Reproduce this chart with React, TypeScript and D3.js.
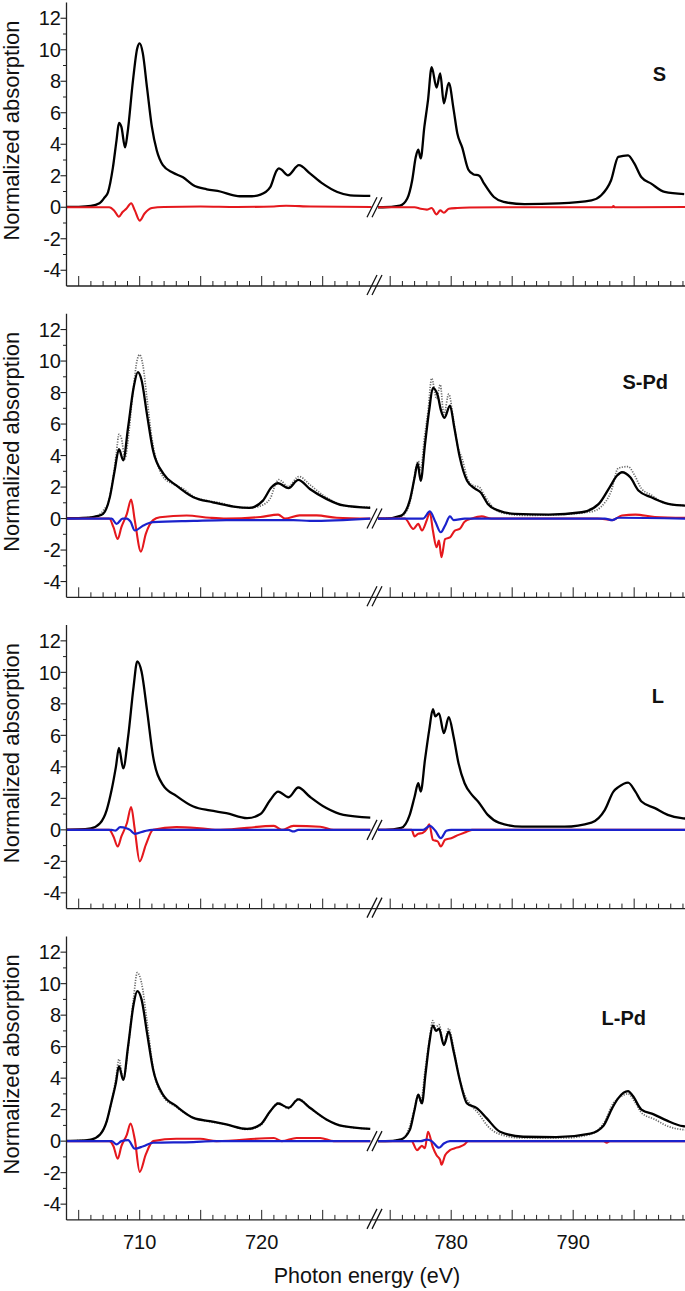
import React from 'react';
import * as d3 from 'd3';

type P = [number, number];

// ---------- data (photon energy eV, normalized absorption) ----------
const panelLabels = ['S', 'S-Pd', 'L', 'L-Pd'];
const yTickValues = [-4, -2, 0, 2, 4, 6, 8, 10, 12];
const yMinorValues = [-3, -1, 1, 3, 5, 7, 9, 11];
const xTickLabelValues = [710, 720, 780, 790];

// Panel S
const sBlackL: P[] = [[704,0.02],[705,0.03],[706,0.08],[706.7,0.25],[707.1,0.6],[707.4,0.95],[707.8,2.5],[708.1,4.25],[708.3,5.35],[708.5,5.1],[708.8,3.8],[709.0,4.7],[709.45,8.06],[709.8,10.1],[710.0,10.4],[710.25,9.8],[710.6,7.6],[711.0,5.1],[711.4,3.6],[711.9,2.67],[712.7,2.2],[713.55,1.9],[714.4,1.4],[715.5,1.14],[716.6,1.0],[717.7,0.76],[718.2,0.7],[719.2,0.7],[719.9,0.8],[720.7,1.28],[721.2,2.3],[721.4,2.47],[721.6,2.4],[722.15,2.03],[723.05,2.67],[723.95,2.15],[725.0,1.5],[726.2,0.97],[727.25,0.76],[728.9,0.72]];
const sBlackR: P[] = [[774,0.0],[774.4,0.0],[775.8,0.1],[776.4,0.55],[776.8,1.7],[777.1,3.2],[777.3,3.65],[777.5,3.1],[777.8,5.1],[778.1,6.8],[778.4,8.9],[778.8,7.6],[779.1,8.5],[779.4,6.6],[779.8,7.9],[780.2,6.2],[780.5,4.7],[780.9,3.8],[781.4,2.4],[781.8,2.1],[782.3,2.0],[782.7,1.5],[783.5,0.65],[784.3,0.34],[786.0,0.2],[788.8,0.25],[791.5,0.44],[792.3,0.76],[793.1,1.7],[793.7,3.2],[794.5,3.3],[795.0,2.8],[795.6,1.9],[796.4,1.5],[797.5,0.97],[799.1,0.83]];
const sRedL: P[] = [[704,0],[707.5,0],[707.9,-0.2],[708.3,-0.6],[708.6,-0.3],[708.9,-0.1],[709.3,0.25],[709.6,-0.2],[710.0,-0.85],[710.4,-0.4],[711.0,-0.05],[712,0.02],[715,0.05],[718,0.02],[721,0.05],[722,0.1],[724,0.05],[729,0.02]];
const sRedR: P[] = [[774,0],[777,0],[777.5,-0.1],[778.0,-0.15],[778.4,-0.05],[778.8,-0.45],[779.1,-0.2],[779.4,-0.35],[779.8,-0.1],[780.5,-0.05],[781.5,-0.02],[784,0],[793.2,0],[793.3,0.08],[793.4,0],[799.2,0.02]];

// Panel S-Pd
const spBlackL: P[] = [[704,0.02],[705,0.03],[706,0.07],[706.5,0.15],[707.0,0.3],[707.55,1.35],[707.95,3.05],[708.3,4.4],[708.65,3.7],[709.05,5.8],[709.5,8.3],[709.85,9.3],[710.15,8.8],[710.6,6.6],[711.1,4.3],[711.95,2.84],[713.0,2.1],[714.4,1.35],[716.0,1.03],[717.7,0.76],[719.0,0.68],[720.1,1.14],[720.8,1.99],[721.35,2.24],[722.2,1.93],[723.0,2.46],[723.95,1.88],[725.3,1.25],[726.7,0.83],[728.9,0.68]];
const spBlackR: P[] = [[774,0],[774.6,0],[775.9,0.19],[776.6,1.14],[777.0,2.6],[777.25,3.5],[777.5,2.4],[777.85,4.7],[778.2,6.9],[778.5,8.3],[778.9,7.8],[779.15,6.9],[779.45,6.4],[779.9,7.17],[780.25,5.8],[780.7,3.9],[781.3,2.4],[781.95,1.9],[782.4,1.67],[783.0,0.93],[783.9,0.5],[785.2,0.3],[788.0,0.25],[790.7,0.4],[792.1,0.93],[793.0,2.0],[793.6,2.73],[794.0,2.94],[794.7,2.6],[795.35,1.78],[796.4,1.35],[797.5,1.0],[798.9,0.83],[799.2,0.82]];
const spRedL: P[] = [[704,0],[707.5,0],[707.85,-0.55],[708.2,-1.3],[708.5,-0.55],[708.95,0.3],[709.3,1.2],[709.6,-0.13],[710.1,-2.1],[710.5,-0.97],[711.1,-0.1],[711.65,0.08],[713.85,0.19],[715.75,0.05],[717.1,0],[719.9,0.1],[721.35,0.25],[721.9,0],[723.1,0.2],[724.5,0.2],[726.15,0.05],[728.9,0]];
const spRedR: P[] = [[774,0],[776.2,0],[776.9,-0.66],[777.3,-0.34],[777.6,-0.76],[778.0,-0.1],[778.25,0.4],[778.5,-0.76],[778.8,-1.82],[779.0,-1.4],[779.2,-2.46],[779.5,-1.3],[779.9,-1.2],[780.3,-0.76],[780.7,-0.66],[781.1,-0.2],[781.7,0],[782.5,0.14],[783.3,0],[792.0,0],[793.2,-0.1],[794.0,0.19],[795.1,0.25],[796.7,0.1],[799.2,0.05]];
const spBlueL: P[] = [[704,0],[707.7,0],[708.1,-0.34],[708.6,0.0],[708.95,0.0],[709.25,-0.2],[709.6,-0.76],[710.3,-0.44],[711.1,-0.23],[714.4,-0.15],[717.1,-0.1],[722.6,-0.1],[723.95,-0.15],[728.9,0]];
const spBlueR: P[] = [[774,0],[777.7,0],[778.25,0.45],[778.7,-0.2],[779.15,-0.87],[779.5,-0.44],[779.9,0.14],[780.2,-0.1],[781.1,0],[792.6,0],[793.2,-0.1],[793.7,0.05],[799.2,0]];

// Panel L
const lBlackL: P[] = [[704,0.02],[705,0.03],[706,0.1],[706.75,0.42],[707.3,1.27],[707.7,2.54],[708.05,4.0],[708.3,5.2],[708.65,3.9],[709.05,5.9],[709.5,9.1],[709.8,10.7],[710.15,10.05],[710.6,7.6],[711.1,4.65],[711.9,2.86],[713.0,2.16],[714.4,1.48],[715.75,1.23],[717.1,1.06],[718.8,0.74],[719.9,1.0],[720.7,1.9],[721.35,2.43],[722.2,2.07],[723.0,2.69],[723.95,2.1],[725.3,1.38],[726.7,0.95],[728.9,0.78]];
const lBlackR: P[] = [[774,0],[774.6,0],[775.9,0.12],[776.6,0.95],[777.0,2.1],[777.3,2.96],[777.5,2.43],[777.85,4.44],[778.2,6.35],[778.5,7.66],[778.7,7.2],[779.0,7.4],[779.4,6.14],[779.8,7.15],[780.2,5.9],[780.6,4.23],[781.1,2.96],[781.7,2.22],[782.2,1.8],[783.0,0.95],[783.9,0.46],[785.8,0.2],[789.3,0.2],[791.5,0.46],[792.6,1.27],[793.3,2.43],[793.7,2.71],[794.5,3.0],[795.1,2.43],[795.6,1.8],[796.7,1.38],[797.75,0.95],[798.9,0.74],[799.2,0.72]];
const lRedL: P[] = [[704,0],[707.5,0],[707.85,-0.42],[708.2,-1.06],[708.5,-0.42],[708.95,0.42],[709.3,1.44],[709.6,0],[710.0,-2.0],[710.5,-0.95],[711.1,0],[713.0,0.17],[714.95,0.1],[716.6,0],[721.0,0.25],[721.65,0],[722.6,0.25],[724.8,0.2],[725.9,0],[728.9,0]];
const lRedR: P[] = [[774,0],[776.75,0],[777.0,-0.42],[777.3,-0.25],[777.65,-0.2],[778.0,0.06],[778.2,0.36],[778.5,-0.63],[778.9,-0.74],[779.15,-1.06],[779.5,-0.63],[780.0,-0.53],[780.6,-0.32],[781.1,-0.17],[781.7,0],[799.2,0]];
const lBlueL: P[] = [[704,0],[707.7,0],[708.0,-0.05],[708.4,0.17],[708.9,0.1],[709.2,0.0],[709.6,-0.25],[710.4,-0.08],[711,0],[722.2,0],[722.6,-0.1],[723,0],[728.9,0]];
const lBlueR: P[] = [[774,0],[777.7,0],[778.25,0.25],[778.7,-0.06],[779.15,-0.53],[779.6,-0.06],[780.0,0],[799.2,0]];

// Panel L-Pd
const lpBlackL: P[] = [[704,0.02],[705,0.03],[706,0.1],[706.75,0.42],[707.3,1.27],[707.7,2.54],[708.05,3.7],[708.3,4.76],[708.65,3.9],[709.05,6.03],[709.5,8.68],[709.8,9.52],[710.15,9.0],[710.6,6.88],[711.1,4.55],[711.9,2.96],[713.0,2.22],[714.4,1.48],[715.75,1.27],[717.1,1.06],[718.8,0.78],[719.9,1.06],[720.7,1.9],[721.35,2.39],[722.2,2.12],[723.0,2.65],[723.95,2.12],[725.3,1.38],[726.7,0.95],[728.9,0.78]];
const lpBlackR: P[] = [[774,0],[774.6,0],[775.9,0.12],[776.6,0.7],[777.0,2.0],[777.3,2.95],[777.6,2.4],[777.9,4.3],[778.2,6.2],[778.5,7.35],[778.75,7.0],[779.0,7.15],[779.4,6.1],[779.8,6.95],[780.2,5.7],[780.7,3.9],[781.3,2.4],[782.1,2.1],[782.9,1.46],[784.0,0.6],[785.9,0.28],[788.6,0.25],[791.4,0.48],[792.5,1.0],[793.2,2.1],[793.7,2.73],[794.5,3.17],[794.9,2.86],[795.6,2.0],[796.6,1.7],[797.7,1.3],[799.0,0.95],[799.2,0.93]];
const lpRedL: P[] = [[704,0],[707.5,0],[707.85,-0.32],[708.2,-1.12],[708.5,-0.32],[708.95,0.42],[709.25,1.12],[709.6,0.1],[710.0,-1.95],[710.5,-0.84],[711.1,0],[713.0,0.15],[714.95,0.15],[716.3,0],[721.0,0.2],[721.65,0],[722.85,0.2],[724.8,0.2],[725.9,0],[728.9,0]];
const lpRedR: P[] = [[774,0],[776.75,0],[777.2,-0.57],[777.6,-0.3],[777.85,-0.45],[778.1,0.6],[778.5,-0.4],[778.8,-0.9],[779.1,-1.2],[779.2,-1.5],[779.5,-0.9],[779.9,-0.57],[780.3,-0.45],[780.7,-0.35],[781.1,-0.2],[781.4,0],[792.5,0],[792.75,-0.1],[793,0],[799.2,0]];
const lpBlueL: P[] = [[704,0],[707.7,0],[708.1,-0.2],[708.5,0],[709.05,0.06],[709.6,-0.48],[710.3,-0.32],[711.1,-0.1],[714.4,-0.06],[716,0],[728.9,0]];
const lpBlueR: P[] = [[774,0],[777.5,0],[778.0,0.1],[778.4,0],[779.0,-0.42],[779.4,-0.15],[779.9,0],[799.2,0]];

type PanelDef = { black: [P[], P[]]; ref?: [P[], P[]]; red: [P[], P[]]; blue?: [P[], P[]] };
const panels: PanelDef[] = [
  { black: [sBlackL, sBlackR], red: [sRedL, sRedR] },
  { black: [spBlackL, spBlackR], ref: [sBlackL, sBlackR], red: [spRedL, spRedR], blue: [spBlueL, spBlueR] },
  { black: [lBlackL, lBlackR], red: [lRedL, lRedR], blue: [lBlueL, lBlueR] },
  { black: [lpBlackL, lpBlackR], ref: [lBlackL, lBlackR], red: [lpRedL, lpRedR], blue: [lpBlueL, lpBlueR] },
];

// ---------- layout ----------
const W = 685, H = 1291;
const TOP0 = 2.5, STEP = 311.3, PH = 283.5;
const labelX = [666, 668, 664, 646];
const labelDY = [78, 75, 78, 89];
const FONT = '"Liberation Sans", Arial, Helvetica, sans-serif';
const RED = '#e5181d';
const BLUE = '#1b22cc';

const xL = d3.scaleLinear().domain([704, 729]).range([66.5, 371.5]);
const xR = d3.scaleLinear().domain([774, 799.2]).range([378, 685.4]);
const BREAK_X = 375;

function Break({ cx, cy }: { cx: number; cy: number }) {
  return (
    <g stroke="#111" strokeWidth={1.3}>
      <line x1={cx - 8} y1={cy + 10} x2={cx + 2} y2={cy - 10} />
      <line x1={cx - 3} y1={cy + 10} x2={cx + 7} y2={cy - 10} />
    </g>
  );
}

function Panel({ idx, def }: { idx: number; def: PanelDef }) {
  const top = TOP0 + idx * STEP;
  const y = d3.scaleLinear().domain([-5, 13]).range([top + PH, top]);
  const mk = (xs: d3.ScaleLinear<number, number>) =>
    d3.line<P>().x(d => xs(d[0])).y(d => y(d[1])).curve(d3.curveMonotoneX);
  const lL = mk(xL), lR = mk(xR);
  const axisY = y(-5);
  const xTicksL = d3.range(705, 729);
  const xTicksR = d3.range(775, 800);
  const isLast = idx === panels.length - 1;
  return (
    <g>
      {def.ref && (
        <g fill="none" stroke="#6a6a6a" strokeWidth={1.7} strokeDasharray="1.2 1.4">
          <path d={lL(def.ref[0]) || ''} />
          <path d={lR(def.ref[1]) || ''} />
        </g>
      )}
      <g fill="none" stroke="#000" strokeWidth={2.3} strokeLinejoin="round">
        <path d={lL(def.black[0]) || ''} />
        <path d={lR(def.black[1]) || ''} />
      </g>
      <g fill="none" stroke={RED} strokeWidth={2.1} strokeLinejoin="round">
        <path d={lL(def.red[0]) || ''} />
        <path d={lR(def.red[1]) || ''} />
      </g>
      {def.blue && (
        <g fill="none" stroke={BLUE} strokeWidth={2.2} strokeLinejoin="round">
          <path d={lL(def.blue[0]) || ''} />
          <path d={lR(def.blue[1]) || ''} />
        </g>
      )}
      <line x1={66.5} x2={66.5} y1={top} y2={axisY} stroke="#222" strokeWidth={1.3} />
      {yTickValues.map(v => (
        <g key={'yt' + v}>
          <line x1={60.5} x2={66.5} y1={y(v)} y2={y(v)} stroke="#222" strokeWidth={1.1} />
          <text x={61} y={y(v)} dy="0.36em" textAnchor="end" fontSize={20} fontFamily={FONT} fill="#111">
            {v}
          </text>
        </g>
      ))}
      {yMinorValues.map(v => (
        <line key={'ym' + v} x1={63} x2={66.5} y1={y(v)} y2={y(v)} stroke="#222" strokeWidth={1} />
      ))}
      <line x1={66.5} x2={W} y1={axisY} y2={axisY} stroke="#222" strokeWidth={1.3} />
      {xTicksL.map(v => (
        <line key={'xl' + v} x1={xL(v)} x2={xL(v)} y1={axisY} y2={axisY - (v % 5 === 0 ? 10 : 5)} stroke="#222" strokeWidth={1} />
      ))}
      {xTicksR.map(v => (
        <line key={'xr' + v} x1={xR(v)} x2={xR(v)} y1={axisY} y2={axisY - (v % 5 === 0 ? 10 : 5)} stroke="#222" strokeWidth={1} />
      ))}
      <Break cx={BREAK_X} cy={axisY - 1} />
      <Break cx={BREAK_X} cy={y(0)} />
      <text
        transform={`translate(19,${top + 128}) rotate(-90)`}
        textAnchor="middle"
        fontSize={22}
        fontFamily={FONT}
        fill="#111"
      >
        Normalized absorption
      </text>
      <text x={labelX[idx]} y={top + labelDY[idx]} textAnchor="end" fontSize={20} fontWeight="bold" fontFamily={FONT} fill="#111">
        {panelLabels[idx]}
      </text>
      {isLast && (
        <g>
          {xTickLabelValues.map(v => (
            <text key={'xlab' + v} x={v < 750 ? xL(v) : xR(v)} y={axisY + 29} textAnchor="middle" fontSize={20} fontFamily={FONT} fill="#111">
              {v}
            </text>
          ))}
          <text x={367} y={1283} textAnchor="middle" fontSize={21.5} fontFamily={FONT} fill="#111">
            Photon energy (eV)
          </text>
        </g>
      )}
    </g>
  );
}

export default function App() {
  return (
    <svg
      width={W}
      height={H}
      viewBox={`0 0 ${W} ${H}`}
      style={{ position: 'absolute', left: 0, top: 0, display: 'block', background: '#fff' }}
    >
      <rect x={0} y={0} width={W} height={H} fill="#fff" />
      {panels.map((p, i) => (
        <Panel key={i} idx={i} def={p} />
      ))}
    </svg>
  );
}
